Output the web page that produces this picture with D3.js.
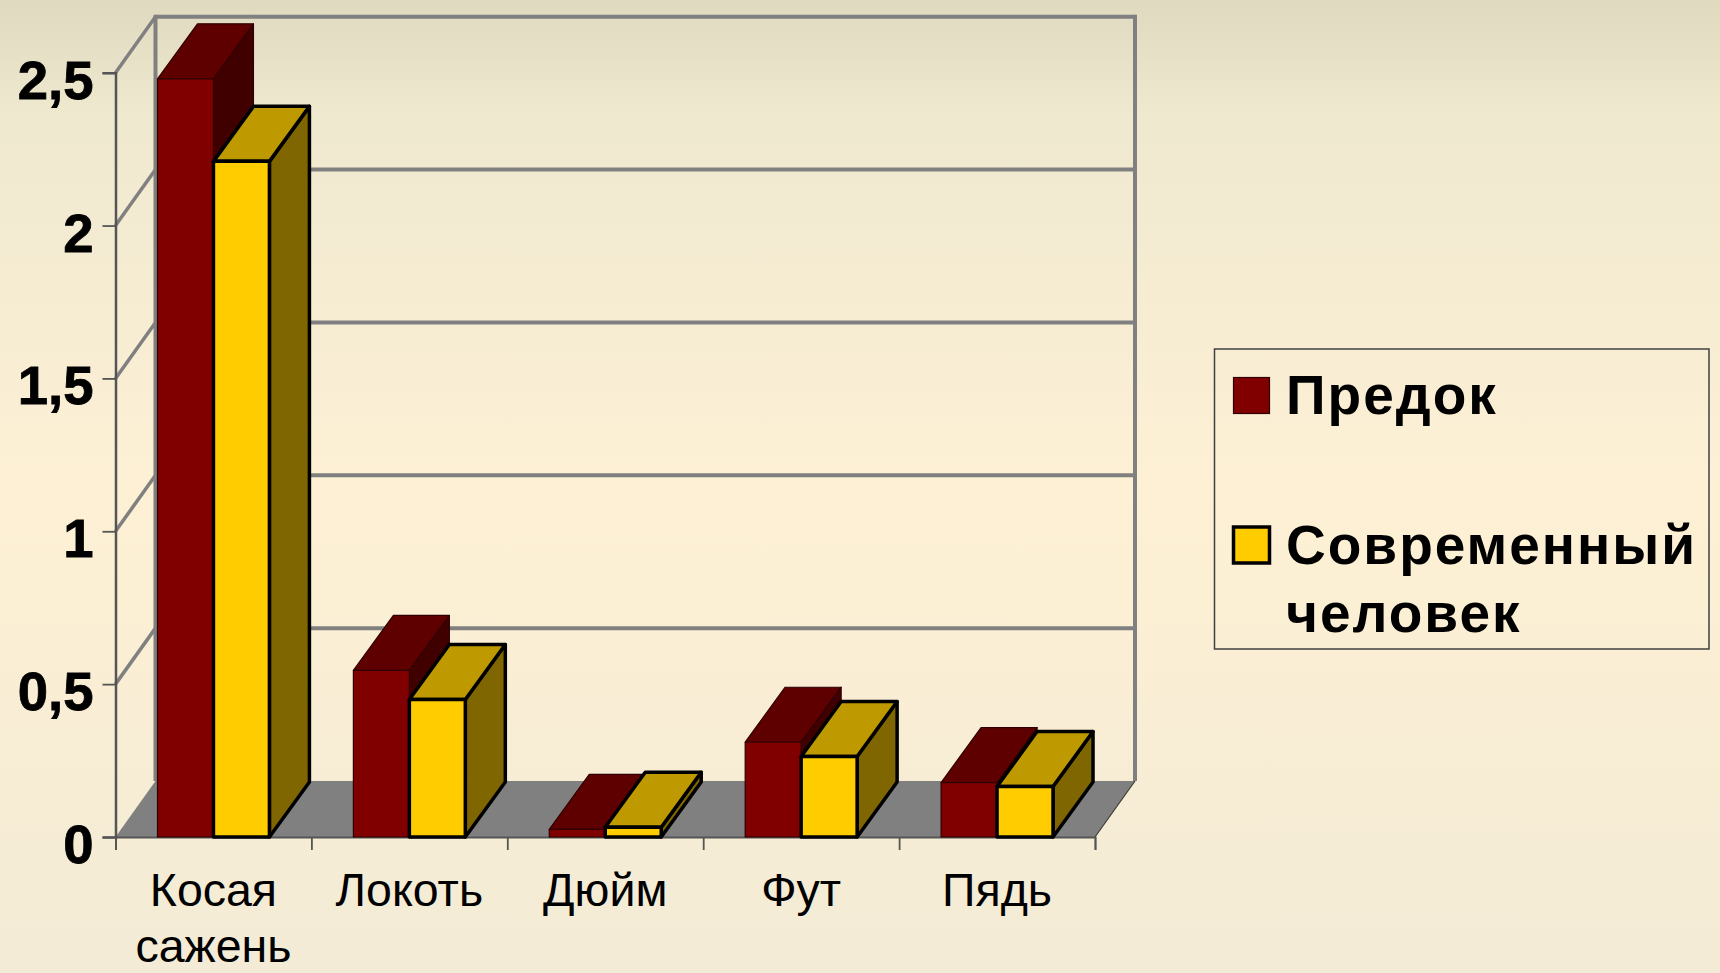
<!DOCTYPE html>
<html>
<head>
<meta charset="utf-8">
<script src="https://cdn.jsdelivr.net/npm/d3@7"></script>
<style>
  html, body { margin: 0; padding: 0; overflow: hidden; }
  text { font-family: "Liberation Sans", Arial, sans-serif; fill: #000; }
</style>
</head>
<body>
<div id="div_chart"></div>
<script>
// Data
var categories = [["Косая", "сажень"], ["Локоть"], ["Дюйм"], ["Фут"], ["Пядь"]];
var seriesNames = ["Предок", "Современный"];
var ancestor = [2.48, 0.545, 0.025, 0.31, 0.178];
var modern = [2.21, 0.45, 0.032, 0.263, 0.165];
var yTicks = [0, 0.5, 1, 1.5, 2, 2.5];
var legendLabels = [["Предок"], ["Современный", "человек"]];

// Basic size information
var svgWidth = 1720;
var svgHeight = 973;
var plot = {left: 115.5, right: 1095, top: 72.7, bottom: 837};
var depth = {x: 40, y: -56};
var barDepth = {x: 40, y: -55};

var svg = d3.select("#div_chart")
    .append("svg")
        .attr("width", svgWidth)
        .attr("height", svgHeight)
        .style("display", "block");

// Slide background
var grad = svg.append("defs").append("linearGradient")
    .attr("id", "bg")
    .attr("x1", 0).attr("y1", 0).attr("x2", 0).attr("y2", 1);
[[0, "#dfd9bf"], [0.12, "#efe9d0"], [0.5, "#fdf0d5"], [0.62, "#fbefd4"], [1, "#f3ebd6"]].forEach(function (s) {
    grad.append("stop").attr("offset", s[0]).attr("stop-color", s[1]);
});
svg.append("rect").attr("width", svgWidth).attr("height", svgHeight).attr("fill", "url(#bg)");

// Scales
var keys = categories.map(function (c) { return c.join(" "); });
var x = d3.scaleBand().domain(keys).range([plot.left, plot.right]);
var xEdge = d3.scaleLinear().domain([0, keys.length]).range([plot.left, plot.right]);
var xSeries = d3.scaleBand().domain(seriesNames).range([0, x.bandwidth()]).paddingOuter(0.75);
var y = d3.scaleLinear().domain([0, 2.5]).range([plot.bottom, plot.top]);

function pts(list) {
    return list.map(function (p) { return p[0] + "," + p[1]; }).join(" ");
}

// Floor
var y0 = y(0);
svg.append("polygon")
    .attr("points", pts([[plot.left, y0], [plot.right, y0],
        [plot.right + depth.x, y0 + depth.y], [plot.left + depth.x, y0 + depth.y]]))
    .attr("fill", "#808080");

// Walls and gridlines
var wall = svg.append("g")
    .attr("stroke", "#808080")
    .attr("fill", "none");
yTicks.slice(1).forEach(function (t) {
    wall.append("line")
        .attr("x1", plot.left + depth.x).attr("x2", plot.right + depth.x)
        .attr("y1", y(t) + depth.y).attr("y2", y(t) + depth.y)
        .attr("stroke-width", 4);
    wall.append("line")
        .attr("x1", plot.left).attr("x2", plot.left + depth.x)
        .attr("y1", y(t)).attr("y2", y(t) + depth.y)
        .attr("stroke-width", 3.5);
});
wall.append("line")
    .attr("x1", plot.left + depth.x).attr("x2", plot.left + depth.x)
    .attr("y1", y(2.5) + depth.y - 2).attr("y2", y0 + depth.y)
    .attr("stroke-width", 4);
wall.append("line")
    .attr("x1", plot.right + depth.x).attr("x2", plot.right + depth.x)
    .attr("y1", y(2.5) + depth.y - 2).attr("y2", y0 + depth.y)
    .attr("stroke-width", 4);
svg.append("line")
    .attr("x1", plot.right).attr("y1", y0)
    .attr("x2", plot.right + depth.x).attr("y2", y0 + depth.y)
    .attr("stroke", "#3a3a3a").attr("stroke-width", 1.2);

// Axes
var yAxis = svg.append("g")
    .attr("transform", "translate(" + plot.left + ",0)")
    .call(d3.axisLeft(y).tickValues(yTicks).tickSize(13).tickPadding(9)
        .tickFormat(function (d) { return String(d).replace(".", ","); }));
yAxis.select(".domain").attr("stroke", "#555").attr("stroke-width", 2.5);
yAxis.selectAll(".tick line").attr("stroke", "#555").attr("stroke-width", 1.8);
yAxis.selectAll(".tick text")
    .attr("dy", 25.5)
    .style("font-size", "54.5px")
    .style("font-weight", "bold")
    .style("stroke", "#000")
    .style("stroke-width", 0.8);

var xAxis = svg.append("g")
    .attr("transform", "translate(0," + plot.bottom + ")")
    .call(d3.axisBottom(xEdge).tickValues(d3.range(keys.length + 1)).tickSize(13).tickFormat(""));
xAxis.select(".domain").attr("stroke", "#555").attr("stroke-width", 1.8);
xAxis.selectAll(".tick line").attr("stroke", "#555").attr("stroke-width", 1.8);

// Category labels
categories.forEach(function (c, i) {
    var t = svg.append("text")
        .attr("text-anchor", "middle")
        .attr("y", 906)
        .style("font-size", "46.5px");
    c.forEach(function (line, j) {
        t.append("tspan")
            .attr("x", x(keys[i]) + x.bandwidth() / 2)
            .attr("dy", j ? 56 : 0)
            .text(line);
    });
});

// 3D bars
var palettes = [
    {front: "#800000", top: "#5e0000", side: "#400000", stroke: "#300000", width: 1.2},
    {front: "#ffcc00", top: "#bf9900", side: "#806600", stroke: "#000", width: 3.5}
];

function drawBar(cat, s, value) {
    var pal = palettes[s];
    var x0 = x(cat) + xSeries(seriesNames[s]);
    var x1 = x0 + xSeries.bandwidth();
    var yt = y(value);
    var g = svg.append("g")
        .attr("stroke", pal.stroke)
        .attr("stroke-width", pal.width)
        .attr("stroke-linejoin", "round");
    g.append("polygon")
        .attr("points", pts([[x1, y0], [x1 + barDepth.x, y0 + barDepth.y], [x1 + barDepth.x, yt + barDepth.y], [x1, yt]]))
        .attr("fill", pal.side);
    g.append("polygon")
        .attr("points", pts([[x0, yt], [x1, yt], [x1 + barDepth.x, yt + barDepth.y], [x0 + barDepth.x, yt + barDepth.y]]))
        .attr("fill", pal.top);
    g.append("rect")
        .attr("x", x0).attr("y", yt)
        .attr("width", x1 - x0).attr("height", y0 - yt)
        .attr("fill", pal.front);
}

keys.forEach(function (k, i) {
    drawBar(k, 0, ancestor[i]);
    drawBar(k, 1, modern[i]);
});

// Legend
svg.append("rect")
    .attr("x", 1214.5).attr("y", 349)
    .attr("width", 494.5).attr("height", 300)
    .attr("fill", "none")
    .attr("stroke", "#404040")
    .attr("stroke-width", 1.5);

var legendRows = [
    {swatchY: 377.5, baseline: 414},
    {swatchY: 527, baseline: 564}
];
legendLabels.forEach(function (lines, i) {
    var pal = palettes[i];
    svg.append("rect")
        .attr("x", 1233.5).attr("y", legendRows[i].swatchY)
        .attr("width", 36).attr("height", 36)
        .attr("fill", pal.front)
        .attr("stroke", pal.stroke)
        .attr("stroke-width", pal.width);
    var t = svg.append("text")
        .attr("y", legendRows[i].baseline)
        .style("font-size", "55px")
        .style("font-weight", "bold")
        .style("letter-spacing", "2px");
    lines.forEach(function (line, j) {
        t.append("tspan")
            .attr("x", 1286)
            .attr("dy", j ? 68 : 0)
            .text(line);
    });
});
</script>
</body>
</html>
